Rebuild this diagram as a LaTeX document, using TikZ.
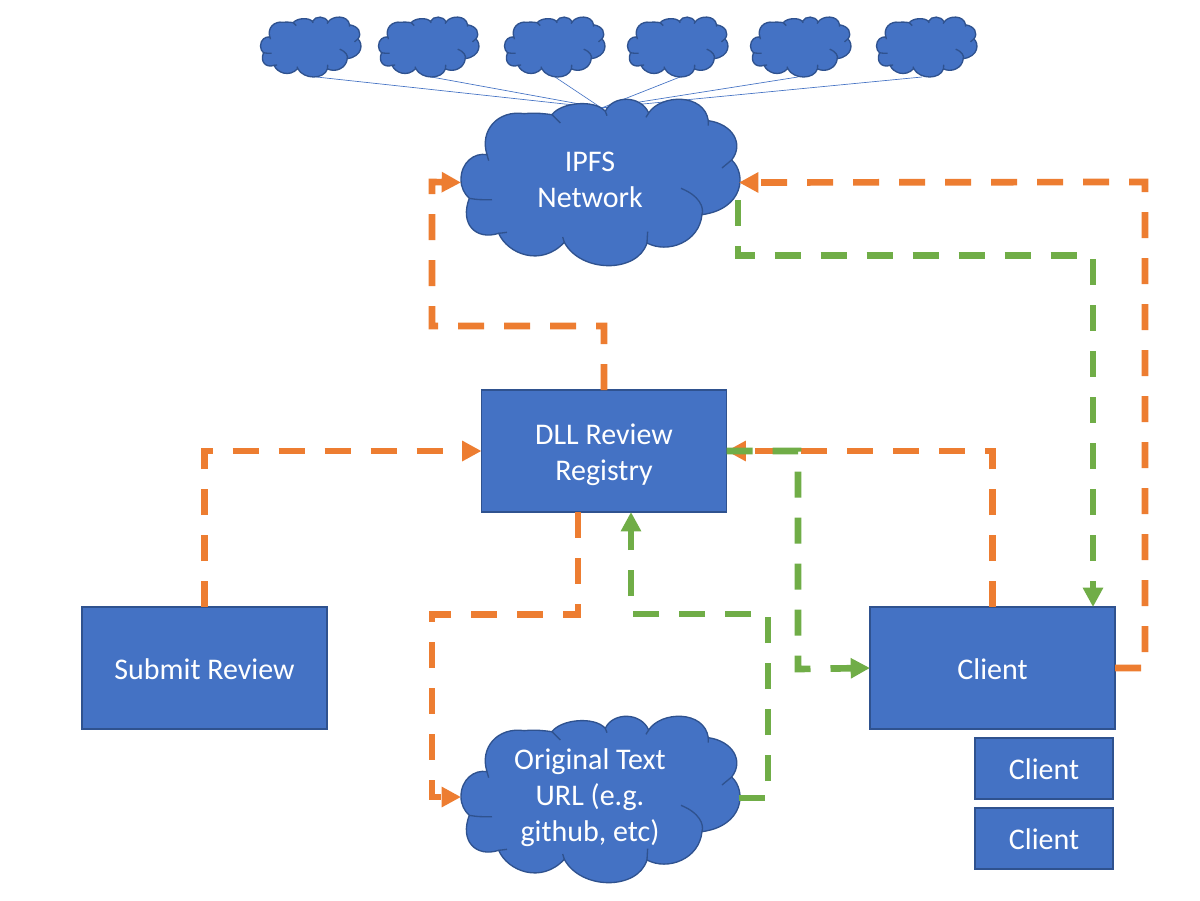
\documentclass[tikz,border=0pt]{standalone}
\usepackage{fontspec}
\setmainfont{Carlito}
\usetikzlibrary{arrows.meta}
\definecolor{boxblue}{HTML}{4472C4}
\definecolor{edgeblue}{HTML}{2F528F}
\definecolor{flowor}{HTML}{ED7D31}
\definecolor{flowgr}{HTML}{70AD47}
\newcommand{\cloudat}[3]{%
  \begin{scope}[shift={(#1,#2)},xscale=#3,yscale=#3]
    \path[fill=boxblue,draw=edgeblue,line width=1pt]
      (0,242) .. controls (0,190) and (40,160) .. (78,167)
      .. controls (55,95) and (110,32) .. (190,44)
      .. controls (225,40) and (255,45) .. (273,47)
      .. controls (300,10) and (400,0) .. (433,37)
      .. controls (455,-12) and (540,-12) .. (563,42)
      .. controls (600,-15) and (730,-18) .. (742,65)
      .. controls (815,75) and (850,135) .. (812,183)
      .. controls (858,225) and (848,330) .. (723,347)
      .. controls (715,430) and (620,465) .. (558,432)
      .. controls (530,523) and (360,523) .. (310,430)
      .. controls (240,505) and (140,465) .. (113,403)
      .. controls (45,425) and (-5,375) .. (25,298)
      .. controls (10,285) and (0,265) .. (0,242) -- cycle;
    \draw[edgeblue,line width=1pt]
      (78,167) -- (83,185)
      (273,47) -- (298,72)
      (433,37) -- (438,50)
      (563,42) -- (555,55)
      (742,65) -- (742,80)
      (812,183) -- (783,207)
      (660,268) .. controls (715,290) and (730,325) .. (723,347)
      (558,432) -- (560,398)
      (310,430) -- (305,414)
      (113,403) -- (138,400)
      (25,298) .. controls (45,302) and (70,303) .. (93,302);
  \end{scope}}
\tikzset{
  bluebox/.style={draw=edgeblue,fill=boxblue,line width=1pt,text=white,font=\fontsize{22.5}{27}\selectfont,align=center,inner sep=0pt,outer sep=0pt,anchor=center,execute at begin node={\rule{0pt}{17pt}}},
  bigbox/.style={bluebox,minimum width=183.75pt,minimum height=91.5pt},
  smallbox/.style={bluebox,minimum width=103.5pt,minimum height=45.75pt},
  cloudspot/.style={inner sep=0pt,outer sep=0pt,minimum width=208.5pt,minimum height=125.25pt},
  tinyspot/.style={inner sep=0pt,outer sep=0pt,minimum width=75pt,minimum height=45pt},
  cloudtext/.style={text=white,font=\fontsize{22.5}{27}\selectfont,align=center,inner sep=0pt},
  spoke/.style={boxblue,line width=0.5pt},
  orflow/.style={flowor,line width=5pt,dash pattern=on 19.5pt off 15pt,-{Triangle[length=14.5pt,width=14.5pt]}},
  grflow/.style={flowgr,line width=5pt,dash pattern=on 19.5pt off 15pt,-{Triangle[length=14.5pt,width=14.5pt]}}
}
\begin{document}
\begin{tikzpicture}[x=0.75pt,y=-0.75pt]
\useasboundingbox[fill=white] (0,0) rectangle (1200,900);
% named spots
\node[tinyspot] (t1) at (310.5,47) {};
\node[tinyspot] (t2) at (428.5,47) {};
\node[tinyspot] (t3) at (554.5,47) {};
\node[tinyspot] (t4) at (677.5,47) {};
\node[tinyspot] (t5) at (800.5,47) {};
\node[tinyspot] (t6) at (926.5,47) {};
\node[cloudspot] (ipfs) at (600,182.5) {};
\node[cloudspot] (orig) at (600,799.5) {};
\coordinate (hub) at (601.5,108);
\coordinate (s1) at (316.5,77);
\coordinate (s2) at (431.5,77);
\coordinate (s3) at (555,77);
\coordinate (s4) at (680,77);
\coordinate (s5) at (798,77);
\coordinate (s6) at (922,77);
\draw[spoke] (s1) -- (hub);
\draw[spoke] (s2) -- (hub);
\draw[spoke] (s3) -- (hub);
\draw[spoke] (s4) -- (hub);
\draw[spoke] (s5) -- (hub);
\draw[spoke] (s6) -- (hub);
% clouds
\cloudat{260.5}{17}{0.12}
\cloudat{378.5}{17}{0.12}
\cloudat{504.5}{17}{0.12}
\cloudat{627.5}{17}{0.12}
\cloudat{750.5}{17}{0.12}
\cloudat{876.5}{17}{0.12}
\cloudat{461}{99}{0.3333}
\cloudat{461}{716}{0.3333}
\node[cloudtext] (ipfslabel) at (590,180) {IPFS\\Network};
\node[cloudtext] (origlabel) at (590,798) {Original Text\\URL (e.g.\\github, etc)};
% boxes
\node[bigbox] (dll) at (604,451) {\rule{0pt}{21.5pt}DLL Review\\Registry};
\node[bigbox] (submit) at (204.5,668) {Submit Review};
\node[bigbox] (client) at (992.5,668) {Client};
\node[smallbox] (c2) at (1044,768.5) {Client};
\node[smallbox] (c3) at (1044,838.5) {Client};
% connector ends off the anchors
\coordinate (dllbl) at (578,512);
\coordinate (dllbg) at (631,512);
\coordinate (clienttop) at (1093,607);
\coordinate (ipfsg) at (738,200);
\coordinate (origw) at (461,797);
\coordinate (orige) at (739,798);
% orange
\draw[orflow] (dll.north) -- (604,326) -- (432,326) -- (432,182) -- (ipfs.west);
\draw[orflow] (client.east) -- (1145,668) -- (1145,182) -- (ipfs.east);
\draw[orflow] (client.north) -- (992.5,451) -- (dll.east);
\draw[orflow] (submit.north) -- (204.5,451) -- (dll.west);
\draw[orflow] (dllbl) -- (578,614.5) -- (432,614.5) -- (432,797) -- (origw);
% green
\draw[grflow] (ipfsg) -- (738,255.5) -- (1093,255.5) -- (clienttop);
\draw[grflow] (dll.east) -- (798,451) -- (798,669) -- (client.west);
\draw[grflow] (orige) -- (768,798) -- (768,614) -- (631,614) -- (dllbg);
\end{tikzpicture}
\end{document}
